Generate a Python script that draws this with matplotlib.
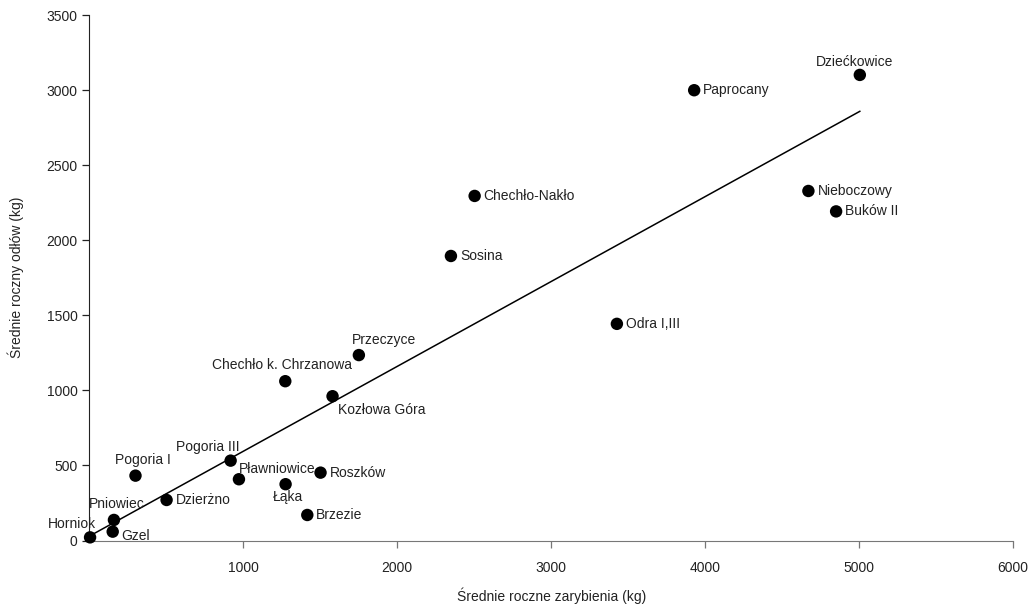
import numpy as np
import matplotlib
matplotlib.use("Agg")
import matplotlib.pyplot as plt

plt.rcParams["font.family"] = ["Liberation Sans Narrow", "Liberation Sans", "DejaVu Sans"]

# Lakes: mean yearly stocking vs mean yearly catch (kg)
names = [
    "Horniok", "Gzel", "Pniowiec", "Pogoria I", "Dzierżno", "Pogoria III",
    "Pławniowice", "Łąka", "Roszków", "Brzezie", "Kozłowa Góra",
    "Chechło k. Chrzanowa", "Przeczyce", "Chechło-Nakło", "Sosina",
    "Odra I,III", "Paprocany", "Dziećkowice", "Nieboczowy", "Buków II",
]
stocking = [5, 152, 160, 300, 502, 918, 972, 1275, 1502, 1416, 1580,
            1273, 1751, 2503, 2349, 3427, 3929, 5005, 4671, 4851]
catch = [21, 59, 137, 432, 270, 532, 408, 375, 452, 170, 961,
         1061, 1235, 2295, 1895, 1443, 2999, 3101, 2328, 2192]

# label placement: (dx, dy) in pixels, horizontal alignment
label_pos = {
    "Horniok": (6, 13, "right"),
    "Gzel": (9, -4, "left"),
    "Pniowiec": (3, 16, "center"),
    "Pogoria I": (7, 16, "center"),
    "Dzierżno": (9, 0, "left"),
    "Pogoria III": (9, 14, "right"),
    "Pławniowice": (0, 10, "left"),
    "Łąka": (2, -13, "center"),
    "Roszków": (9, 0, "left"),
    "Brzezie": (9, 0, "left"),
    "Kozłowa Góra": (5, -14, "left"),
    "Chechło k. Chrzanowa": (-3, 16, "center"),
    "Przeczyce": (-7, 15, "left"),
    "Chechło-Nakło": (9, 0, "left"),
    "Sosina": (9, 0, "left"),
    "Odra I,III": (9, 0, "left"),
    "Paprocany": (9, 0, "left"),
    "Dziećkowice": (-5, 13, "center"),
    "Nieboczowy": (9, 0, "left"),
    "Buków II": (9, 0, "left"),
}

x = np.array(stocking, dtype=float)
y = np.array(catch, dtype=float)
slope, intercept = np.polyfit(x, y, 1)

fig = plt.figure(figsize=(10.30, 6.05), dpi=100)
ax = fig.add_axes([0.0867, 0.1066, 0.8968, 0.8686])

xl = np.array([0, x.max()])
ax.plot(xl, slope * xl + intercept, color="black", lw=1.1, zorder=2)
ax.scatter(x, y, s=80, color="black", edgecolors="none", zorder=3, clip_on=False)

for n, xi, yi in zip(names, x, y):
    dx, dy, ha = label_pos[n]
    ax.annotate(n, (xi, yi), xytext=(dx, dy), textcoords="offset pixels",
                ha=ha, va="center", fontsize=10, color="#222222")

ax.set_xlim(0, 6000)
ax.set_ylim(0, 3500)
ax.set_xticks([1000, 2000, 3000, 4000, 5000, 6000])
ax.set_yticks(np.arange(0, 3501, 500))
ax.spines["top"].set_visible(False)
ax.spines["right"].set_visible(False)
ax.spines["left"].set_color("#222222")
ax.spines["bottom"].set_color("#777777")
ax.tick_params(labelsize=10, colors="#222222", length=5, width=0.9)
ax.tick_params(axis="x", pad=10, color="#777777")

ax.set_xlabel("Średnie roczne zarybienia (kg)", fontsize=10, color="#222222", labelpad=9)
ax.set_ylabel("Średnie roczny odłów (kg)", fontsize=10, color="#222222", labelpad=16)

fig.savefig("out.png", dpi=100)
